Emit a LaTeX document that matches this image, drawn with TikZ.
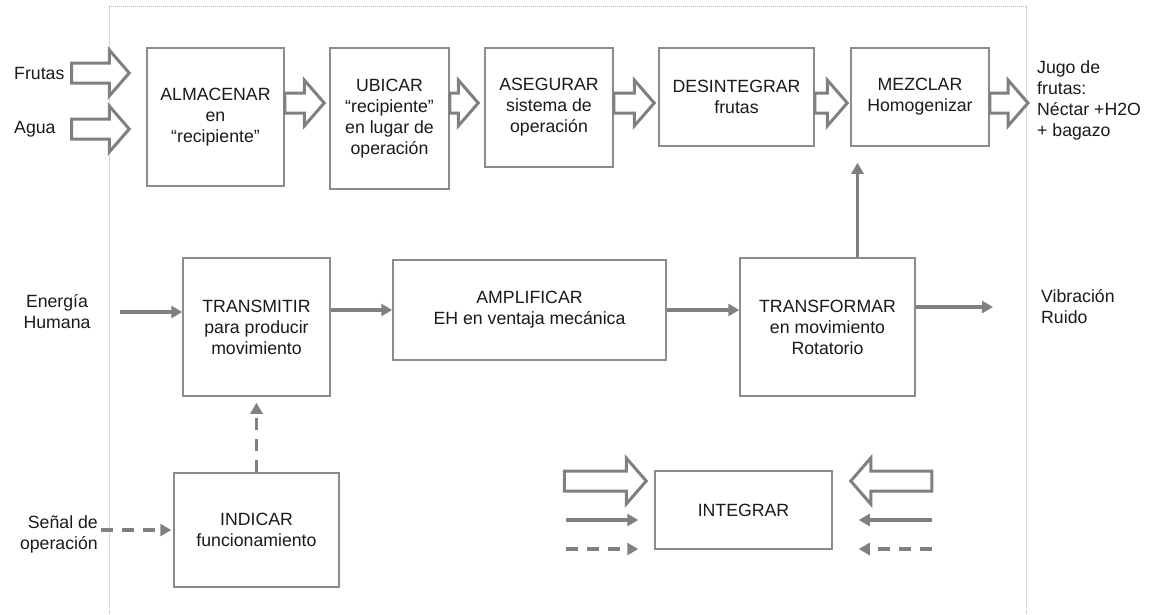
\documentclass[tikz,border=0pt]{standalone}
\usepackage{fontspec}
\setmainfont{Liberation Sans}
\usetikzlibrary{arrows.meta,positioning,calc}
\definecolor{flink}{HTML}{1A1A1A}
\definecolor{flgrey}{HTML}{808080}
\definecolor{flbox}{HTML}{8C8C8C}
\definecolor{flframe}{HTML}{B4B4B4}

% block arrow (outlined) from #1 to #2, both given with their parentheses
\newcommand{\fatarrow}[2]{%
  \draw[hollow] let \p1=#1, \p2=#2, \p3=($(\p2)!20pt!(\p1)$) in
    (\x1,\y1+10pt) -- (\x3,\y1+10pt) -- (\x3,\y1+23pt) -- (\x2,\y2)
    -- (\x3,\y1-23pt) -- (\x3,\y1-10pt) -- (\x1,\y1-10pt) -- cycle;}

\begin{document}
\begin{tikzpicture}[x=1pt, y=-1pt, font=\fontsize{17.7}{21}\selectfont, >=Latex,
  blk/.style={draw=flbox, line width=1.5pt, fill=white, align=center, text=flink, inner sep=2pt},
  lbl/.style={text=flink, inner sep=3pt},
  flow/.style={draw=flgrey, line width=3.5pt, -{Triangle[length=11pt,width=12pt]}},
  dflow/.style={flow, dash pattern=on 12pt off 9pt},
  hollow/.style={draw=flgrey, line width=3pt, fill=white, line join=miter}]
  \useasboundingbox (0,0) rectangle (1167,614);
  \draw[flframe, densely dotted, line width=1pt] (109,614) -- (109,6) -- (1026,6) -- (1026,614);
  % ---------- material flow ----------
  \node[blk, minimum width=137pt, minimum height=138pt] (alm) at (215.5,117) {ALMACENAR\\en\\“recipiente”};
  \node[blk, minimum width=119pt, minimum height=141pt] (ubi) at (389.5,118.5) {UBICAR\\“recipiente”\\en lugar de\\operación};
  \node[blk, minimum width=128pt, minimum height=119pt] (ase) at (549,107.5) {ASEGURAR\\sistema de\\operación};
  \node[blk, minimum width=155pt, minimum height=98pt] (des) at (736.5,97) {DESINTEGRAR\\frutas};
  \node[blk, minimum width=138pt, minimum height=98pt] (mez) at (920,97) {MEZCLAR\\Homogenizar};
  \node[lbl, anchor=west] (fru) at (11,73) {Frutas};
  \node[lbl, anchor=west] (agu) at (11,129) {Agua};
  \node[lbl, anchor=west, align=left] (jug) at (1034,100) {Jugo de\\frutas:\\Néctar +H2O\\+ bagazo};
  \coordinate (rowA) at (0,103);
  \fatarrow{([xshift=4pt]fru.east)}{([xshift=-17pt]alm.west |- fru.east)}
  \fatarrow{([xshift=4pt]fru.east |- agu.east)}{([xshift=-17pt]alm.west |- agu.east)}
  \fatarrow{(alm.east |- rowA)}{([xshift=-5pt]ubi.west |- rowA)}
  \fatarrow{(ubi.east |- rowA)}{([xshift=-6pt]ase.west |- rowA)}
  \fatarrow{(ase.east |- rowA)}{([xshift=-4pt]des.west |- rowA)}
  \fatarrow{(des.east |- rowA)}{([xshift=-3pt]mez.west |- rowA)}
  \fatarrow{(mez.east |- rowA)}{([xshift=-6pt]jug.west |- rowA)}
  % ---------- energy flow ----------
  \node[blk, minimum width=147pt, minimum height=138pt] (tra) at (256.5,327) {TRANSMITIR\\para producir\\movimiento};
  \node[blk, minimum width=273pt, minimum height=100pt] (amp) at (529.5,310) {AMPLIFICAR\\EH en ventaja mecánica};
  \node[blk, minimum width=175pt, minimum height=138pt] (trf) at (827.5,327) {TRANSFORMAR\\en movimiento\\Rotatorio};
  \node[lbl, align=center] (eh) at (57,312) {Energía\\Humana};
  \node[lbl, anchor=west, align=left] (vib) at (1038,307) {Vibración\\Ruido};
  \draw[flow] ([xshift=26pt]eh.east) -- (tra.west |- eh.east);
  \draw[flow] (tra.east |- amp.west) -- (amp.west);
  \draw[flow] (amp.east) -- (trf.west |- amp.east);
  \draw[flow] (trf.east |- vib.west) -- ([xshift=-45pt]vib.west);
  \coordinate (up) at ([xshift=30pt]trf.north);
  \coordinate (mezin) at ([yshift=-16pt]mez.south);
  \draw[flow] (up) -- (up |- mezin);
  % ---------- signal flow ----------
  \node[blk, minimum width=165pt, minimum height=114pt] (ind) at (256.5,530) {INDICAR\\funcionamiento};
  \node[lbl, anchor=east, align=right] (sen) at (101,534) {Señal de\\operación};
  \draw[dflow] (sen.east |- ind.west) -- ([xshift=-2pt]ind.west);
  \draw[dflow] (ind.north) -- ([yshift=-6pt]tra.south);
  % ---------- legend ----------
  \node[blk, minimum width=177pt, minimum height=78pt] (int) at (743.5,510) {INTEGRAR};
  \fatarrow{([xshift=-90pt,yshift=29pt]int.west)}{([xshift=-8pt,yshift=29pt]int.west)}
  \fatarrow{([xshift=99pt,yshift=29pt]int.east)}{([xshift=18pt,yshift=29pt]int.east)}
  \foreach \s/\dy in {flow/-10pt, dflow/-39pt} {
    \draw[\s] ([xshift=-88pt,yshift=\dy]int.west) -- ([xshift=-16pt,yshift=\dy]int.west);
    \draw[\s] ([xshift=99pt,yshift=\dy]int.east) -- ([xshift=26pt,yshift=\dy]int.east);
  }
\end{tikzpicture}
\end{document}
